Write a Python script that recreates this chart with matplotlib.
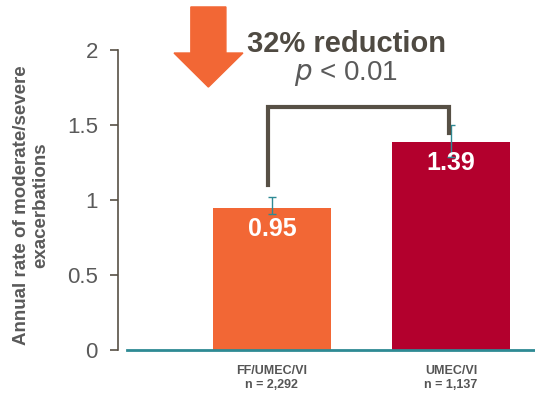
import matplotlib

matplotlib.use("Agg")
import matplotlib.pyplot as plt
from matplotlib.patches import Polygon

plt.rcParams["font.family"] = ["Liberation Sans", "DejaVu Sans"]

# annual exacerbation rates with 95% CI
groups = ["FF/UMEC/VI\nn = 2,292", "UMEC/VI\nn = 1,137"]
rates = [0.95, 1.39]
ci_low = [0.91, 1.29]
ci_high = [1.02, 1.50]
bar_colors = ["#F26735", "#B3002D"]
yticks = [0, 0.5, 1, 1.5, 2]
ytick_labels = ["0", "0.5", "1", "1.5", "2"]

GRAY = "#5A5A5A"
BRACKET = "#575045"
TEAL = "#2E8A94"

fig = plt.figure(figsize=(5.35, 3.97), dpi=100)
ax = fig.add_axes([118 / 535, 47 / 397, 417 / 535, 300 / 397])

x = list(range(len(rates)))
ax.bar(x, rates, width=0.66, color=bar_colors, zorder=2)
err = [[r - lo for r, lo in zip(rates, ci_low)], [hi - r for r, hi in zip(rates, ci_high)]]
ax.errorbar(x, rates, yerr=err, fmt="none", ecolor=TEAL, elinewidth=1.0, capsize=3, capthick=1.0, zorder=3)

for xi, r in zip(x, rates):
    ax.text(xi, r - 0.145, f"{r:.2f}", ha="center", va="center", color="white",
            fontsize=18, fontweight="bold", zorder=4)

ax.set_xlim(-0.86, 1.47)
ax.set_ylim(0, 2)
ax.set_yticks(yticks)
ax.set_yticklabels(ytick_labels, fontsize=16, color=GRAY)
ax.tick_params(axis="y", direction="out", length=6, width=1.2, color=BRACKET, pad=8.5)
ax.set_xticks([])
for side in ["top", "right", "bottom"]:
    ax.spines[side].set_visible(False)
ax.spines["left"].set_color(BRACKET)
ax.spines["left"].set_linewidth(1.2)
ax.axhline(0, xmin=9 / 417, xmax=1, color=TEAL, linewidth=2, zorder=5, clip_on=False)

fig.text(31 / 535, 192 / 397, "Annual rate of moderate/severe\nexacerbations", rotation=90,
         ha="center", va="center", fontsize=13.5, fontweight="bold", color=GRAY,
         multialignment="center", linespacing=1.15)

for xi, g in zip(x, groups):
    ax.text(xi, -0.1, g, ha="center", va="top", fontsize=9, fontweight="bold",
            color="#555555", linespacing=1.25, clip_on=False)

# significance bracket
ax.plot([-0.02, -0.02, 0.99, 0.99], [1.1, 1.62, 1.62, 1.45], color=BRACKET,
        linewidth=3, solid_joinstyle="miter", zorder=3, clip_on=False)

ax.text(0.415, 1.987, "32% reduction", ha="center", va="baseline", fontsize=21,
        fontweight="bold", color="#4F4A42", clip_on=False)
ax.text(0.415, 1.80, "$\\it{p}$ < 0.01", ha="center", va="baseline", fontsize=20,
        color=GRAY, clip_on=False)

# big down arrow
arrow = Polygon([(-0.453, 2.287), (-0.257, 2.287), (-0.257, 1.98), (-0.162, 1.98),
                 (-0.355, 1.753), (-0.547, 1.98), (-0.453, 1.98)],
                closed=True, color="#F26735", clip_on=False, zorder=4)
ax.add_patch(arrow)

fig.savefig("out.png", dpi=100)
